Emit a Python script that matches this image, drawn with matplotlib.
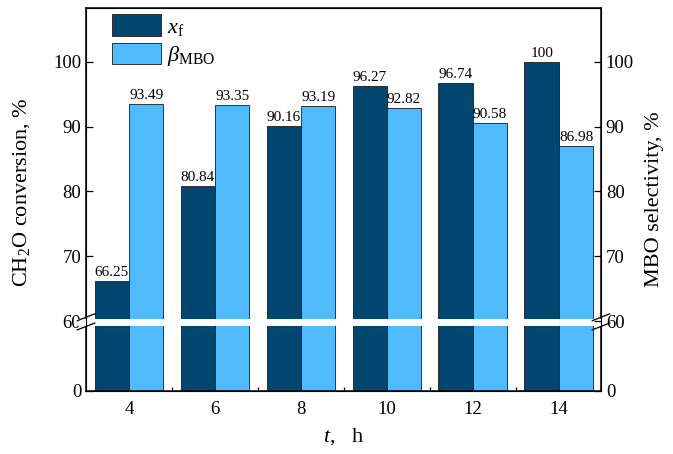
import numpy as np
import matplotlib
matplotlib.use('Agg')
matplotlib.rcParams.update({
    'font.family': 'serif',
    'font.serif': ['Liberation Serif', 'DejaVu Serif'],
    'mathtext.fontset': 'custom',
    'mathtext.rm': 'Liberation Serif',
    'mathtext.it': 'Liberation Serif:italic',
    'mathtext.bf': 'Liberation Serif:bold',
    'xtick.direction': 'in',
    'ytick.direction': 'in',
})
import matplotlib.pyplot as plt

# data
times = ['4', '6', '8', '10', '12', '14']
conversion = [66.25, 80.84, 90.16, 96.27, 96.74, 100]
selectivity = [93.49, 93.35, 93.19, 92.82, 90.58, 86.98]
conv_labels = ['66.25', '80.84', '90.16', '96.27', '96.74', '100']
sel_labels = ['93.49', '93.35', '93.19', '92.82', '90.58', '86.98']
ytick_vals = [0, 60, 70, 80, 90, 100]

dark, light = '#00466f', '#4fbbfd'

# broken axis: 0-60 squeezed, 60-108 linear
BREAK = 60.0
K = 0.1795
YTOP = 108.3


def fwd(y):
    y = np.asarray(y, dtype=float)
    return np.where(y < BREAK, y * K, BREAK * K + (y - BREAK))


def inv(v):
    v = np.asarray(v, dtype=float)
    return np.where(v < BREAK * K, v / K, v - BREAK * K + BREAK)


fig = plt.figure(figsize=(6.73, 4.54), dpi=100)
ax = fig.add_axes([0.1278, 0.1388, 0.893 - 0.1278, 0.9824 - 0.1388])

x = np.arange(len(times))
w = 0.4
ax.bar(x - w / 2, conversion, w, color=dark, edgecolor='#1a1a1a', linewidth=0.6,
       label=r'$x_\mathrm{f}$', zorder=2)
ax.bar(x + w / 2, selectivity, w, color=light, edgecolor='#1a1a1a', linewidth=0.6,
       label=r'$\beta_\mathrm{MBO}$', zorder=2)

for xi, v, s in zip(x - w / 2, conversion, conv_labels):
    ax.text(xi, v + 0.3, s, ha='center', va='bottom', fontsize=11)
for xi, v, s in zip(x + w / 2, selectivity, sel_labels):
    ax.text(xi, v + 0.3, s, ha='center', va='bottom', fontsize=11)

ax.set_yscale('function', functions=(fwd, inv))
ax.set_ylim(0, YTOP)
ax.set_xlim(-0.5, 5.49)
ax.set_yticks(ytick_vals)
ax.set_yticklabels([str(v) for v in ytick_vals])
ax.set_xticks(x)
ax.set_xticklabels(times)
ax.tick_params(axis='both', which='major', labelsize=13.5, length=5, width=0.9)
ax.tick_params(axis='x', which='major', pad=7)
ax.yaxis.set_minor_locator(matplotlib.ticker.NullLocator())
ax.xaxis.set_minor_locator(matplotlib.ticker.FixedLocator(x + 0.5))
ax.tick_params(axis='x', which='minor', length=3, width=0.9)
for sp in ax.spines.values():
    sp.set_linewidth(1.1)

ax2 = ax.twinx()
ax2.set_yscale('function', functions=(fwd, inv))
ax2.set_ylim(0, YTOP)
ax2.set_yticks(ytick_vals)
ax2.set_yticklabels([str(v) for v in ytick_vals])
ax2.tick_params(axis='y', labelsize=13.5, length=5, width=0.9)
ax2.set_ylabel('MBO selectivity, %', fontsize=16, labelpad=8)

# white break band across the bars
ax.axhline(BREAK - 0.6, xmin=-0.01, xmax=1.01, color='white', linewidth=5,
           zorder=5, clip_on=False)
yb = (fwd(BREAK - 0.6) - fwd(0)) / (fwd(YTOP) - fwd(0))
for xs in (0.0, 1.0):
    for dy in (-0.012, 0.012):
        ax.plot([xs - 0.017, xs + 0.017], [yb + dy - 0.009, yb + dy + 0.009],
                transform=ax.transAxes, color='black', linewidth=0.9,
                clip_on=False, zorder=6)

ax.set_ylabel(r'CH$_2$O conversion, %', fontsize=16)
ax.yaxis.set_label_coords(-0.105, 0.52)
ax.set_xlabel(r'$t$,   h', fontsize=16, labelpad=6)

ax.legend(loc='upper left', bbox_to_anchor=(0.02, 1.024), frameon=False, fontsize=16,
          handlelength=2.2, handleheight=1.1, labelspacing=0.25, handletextpad=0.3,
          borderaxespad=0.3)

plt.savefig('out.png', dpi=100)
